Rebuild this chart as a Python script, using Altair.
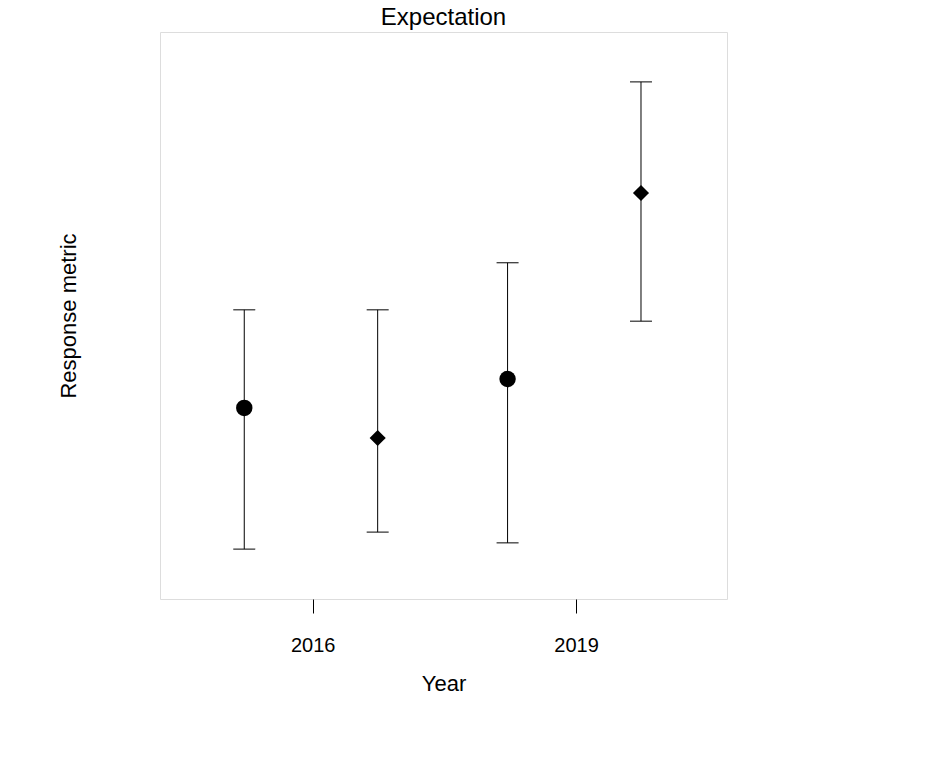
import altair as alt
import pandas as pd

groups = ["Control", "Rock", "Control", "Rock"]
xpos = [2015.22, 2016.74, 2018.22, 2019.74]
means = [0.337, 0.284, 0.388, 0.716]
lows = [0.088, 0.118, 0.099, 0.490]
highs = [0.510, 0.510, 0.593, 0.912]

df = pd.DataFrame({"group": groups, "x": xpos, "mean": means, "low": lows, "high": highs})

FONT = "Liberation Sans"
xs = alt.Scale(domain=[2014.26, 2020.72], nice=False, zero=False)
ys = alt.Scale(domain=[0, 1], nice=False, zero=False)

base = alt.Chart(df)

bars = base.mark_rule(color="black", strokeWidth=1).encode(
    x=alt.X("x:Q", scale=xs,
            axis=alt.Axis(values=[2016, 2019], format="d", title="Year", grid=False,
                          domain=False, tickSize=14, tickColor="black", labelFontSize=20,
                          labelPadding=22, titleFontSize=22, titlePadding=18,
                          labelColor="black", titleColor="black", titleFontWeight="normal",
                          labelFont=FONT, titleFont=FONT)),
    y=alt.Y("low:Q", scale=ys,
            axis=alt.Axis(labels=False, ticks=False, domain=False, grid=False,
                          title="Response metric", titleFontSize=22, titlePadding=80,
                          titleColor="black", titleFontWeight="normal", titleFont=FONT)),
    y2="high:Q",
)

cap_lo = base.mark_tick(color="black", size=22, thickness=1, orient="horizontal", opacity=1).encode(
    x=alt.X("x:Q", scale=xs), y=alt.Y("low:Q", scale=ys))
cap_hi = base.mark_tick(color="black", size=22, thickness=1, orient="horizontal", opacity=1).encode(
    x=alt.X("x:Q", scale=xs), y=alt.Y("high:Q", scale=ys))

points = base.mark_point(filled=True, color="black", opacity=1).encode(
    x=alt.X("x:Q", scale=xs),
    y=alt.Y("mean:Q", scale=ys),
    shape=alt.Shape("group:N", scale=alt.Scale(domain=["Control", "Rock"], range=["circle", "diamond"]),
                    legend=alt.Legend(title=None, orient="none", legendX=630, legendY=76,
                                      labelFontSize=22, labelFont=FONT, labelColor="black",
                                      symbolFillColor="black", symbolStrokeColor="black",
                                      symbolSize=150, rowPadding=8, labelOffset=14)),
    size=alt.Size("group:N", scale=alt.Scale(domain=["Control", "Rock"], range=[270, 260]), legend=None),
)

chart = alt.layer(bars, cap_lo, cap_hi, points).properties(
    width=567, height=567, autosize="none",
    padding={"left": 152, "top": 24, "right": 210, "bottom": 140},
    title=alt.TitleParams("Expectation", fontSize=24, font=FONT, fontWeight="normal",
                          color="black", offset=2),
).configure_view(stroke="black", strokeWidth=1, strokeOpacity=1).configure(background="white")

chart.save("out.html", embed_options={"renderer": "svg", "actions": False})
